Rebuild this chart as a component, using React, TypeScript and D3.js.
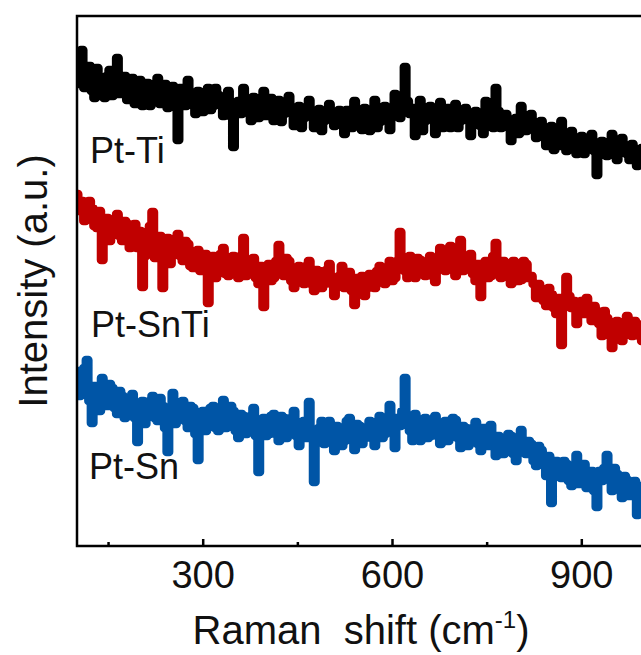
import React from "react";
import * as d3 from "d3";

const shiftStart = 100;
const shiftStep = 4;

const ptTi = [490,462,496,458,470,480,455,448,478,452,462,448,470,476,450,466,488,452,462,470,446,452,468,442,455,466,440,450,463,440,448,458,468,442,452,462,438,446,460,452,406,458,448,440,466,450,445,432,455,448,434,445,458,436,440,458,451,442,430,444,455,430,399,436,445,432,458,446,436,425,449,440,428,436,455,430,440,448,425,438,446,424,432,438,450,433,420,430,440,418,428,436,446,430,418,428,437,415,425,432,442,428,420,430,436,424,412,436,430,418,445,430,422,416,438,428,415,430,446,418,424,432,440,428,416,435,452,440,428,440,479,445,432,438,410,426,446,415,425,432,440,428,412,422,444,418,430,438,418,430,442,418,425,432,438,426,410,424,435,430,420,412,445,432,425,418,458,435,418,425,432,420,405,418,428,412,440,426,415,420,432,418,408,412,425,415,400,410,420,396,408,400,425,410,395,405,415,400,392,405,410,392,398,404,412,395,371,398,405,398,390,396,412,402,386,398,408,400,392,386,402,394,380,392,398];

const ptSnTi = [352,335,345,325,330,345,338,320,318,335,286,310,328,305,315,325,332,310,305,325,322,298,310,322,298,315,259,290,305,320,334,288,300,310,258,290,308,282,292,305,312,290,285,305,302,280,278,295,296,275,284,292,243,282,290,268,275,292,298,272,270,285,290,272,268,290,308,270,275,282,288,268,262,280,239,272,282,265,268,285,301,275,270,288,285,265,258,278,280,265,262,280,285,262,255,276,275,258,262,276,282,262,250,268,270,280,258,265,274,255,241,268,265,270,250,258,272,265,258,275,280,268,262,278,285,265,268,285,314,280,275,268,290,275,268,288,286,272,270,285,290,270,264,285,298,278,275,292,300,278,270,295,306,275,280,290,292,272,265,282,249,275,285,268,270,290,303,275,268,285,282,270,262,285,280,265,266,285,282,268,270,262,248,262,255,245,240,258,252,238,232,248,201,240,269,250,238,245,222,240,245,232,248,232,225,240,235,222,210,235,228,215,198,218,225,212,205,222,230,212,210,225,222,210,205];

const ptSn = [175,150,160,178,186,145,123,160,150,135,168,148,140,162,158,138,132,155,150,128,140,148,152,128,104,138,145,122,132,145,150,128,125,148,140,118,94,135,153,122,130,142,145,125,118,140,138,112,86,130,135,115,120,138,140,118,115,135,146,118,122,140,135,115,108,132,130,112,118,130,138,110,74,125,128,110,112,130,132,112,105,130,128,108,115,128,135,110,100,122,125,108,144,115,64,110,118,125,102,118,125,108,95,120,118,100,105,125,128,110,96,122,120,102,108,118,125,108,100,122,130,108,112,125,141,115,98,128,120,135,168,125,115,105,132,118,105,122,128,108,110,125,130,110,102,122,125,105,112,128,126,108,98,120,118,100,105,118,124,102,95,118,112,100,121,105,90,110,108,92,95,112,110,92,85,108,116,95,92,105,102,85,80,100,96,82,70,90,43,75,85,70,68,85,82,65,60,80,91,62,70,82,58,75,75,55,39,75,65,78,91,68,55,78,72,58,48,70,66,50,52,65,31,60,55];

const seriesNames = ["Pt-Ti", "Pt-SnTi", "Pt-Sn"];
const seriesColors = ["#000000", "#c00000", "#0055a6"];
const majorTicks = [300, 600, 900];
const minorTicks = [150, 450, 750];

export default function App() {
  const W = 641, H = 655;
  const left = 77, top = 16, bottom = 546;
  const x = d3.scaleLinear().domain([100, 1000]).range([left, left + 900 * 0.631]);
  const y = d3.scaleLinear().domain([0, 530]).range([bottom, top]);
  const all = [ptTi, ptSnTi, ptSn];
  const line = d3
    .line<number>()
    .x((_, i) => x(shiftStart + shiftStep * i))
    .y((d) => y(d))
    .curve(d3.curveStep);
  const labelPos = [
    { x: 90, y: 163 },
    { x: 91, y: 337 },
    { x: 89, y: 479 },
  ];
  const font = "'Liberation Sans', Arial, sans-serif";
  return (
    <svg width={W} height={H} style={{ position: "absolute", left: 0, top: 0, background: "#fff" }} fontFamily={font}>
      <defs>
        <clipPath id="plotclip">
          <rect x={left} y={top} width={W - left} height={bottom - top} />
        </clipPath>
      </defs>
      <g clipPath="url(#plotclip)">
        {all.map((s, k) => (
          <path key={k} d={line(s) || ""} fill="none" stroke={seriesColors[k]} strokeWidth={8.5} strokeLinejoin="round" strokeLinecap="round" />
        ))}
      </g>
      {seriesNames.map((n, k) => (
        <text key={n} x={labelPos[k].x} y={labelPos[k].y} fontSize={36} fill="#111">{n}</text>
      ))}
      <path d={`M${x(1000)},${top} H${left} V${bottom} H${x(1000)}`} fill="none" stroke="#000" strokeWidth={2.5} />
      {majorTicks.map((t) => (
        <g key={t}>
          <line x1={x(t)} x2={x(t)} y1={bottom} y2={bottom - 7} stroke="#000" strokeWidth={2.5} />
          <text x={x(t)} y={588} fontSize={38} textAnchor="middle" fill="#111">{t}</text>
        </g>
      ))}
      {minorTicks.map((t) => (
        <line key={t} x1={x(t)} x2={x(t)} y1={bottom} y2={bottom - 4} stroke="#000" strokeWidth={2.5} />
      ))}
      <text x={361} y={644} fontSize={40} textAnchor="middle" fill="#111" style={{ whiteSpace: "pre" }}>
        <tspan>{"Raman  shift (cm"}</tspan>
        <tspan fontSize={24} dy={-16}>{"-1"}</tspan>
        <tspan dy={16}>{")"}</tspan>
      </text>
      <text transform={`translate(47,281) rotate(-90)`} fontSize={40} textAnchor="middle" fill="#111" style={{ whiteSpace: "pre" }}>
        {"Intensity (a.u.)"}
      </text>
    </svg>
  );
}
